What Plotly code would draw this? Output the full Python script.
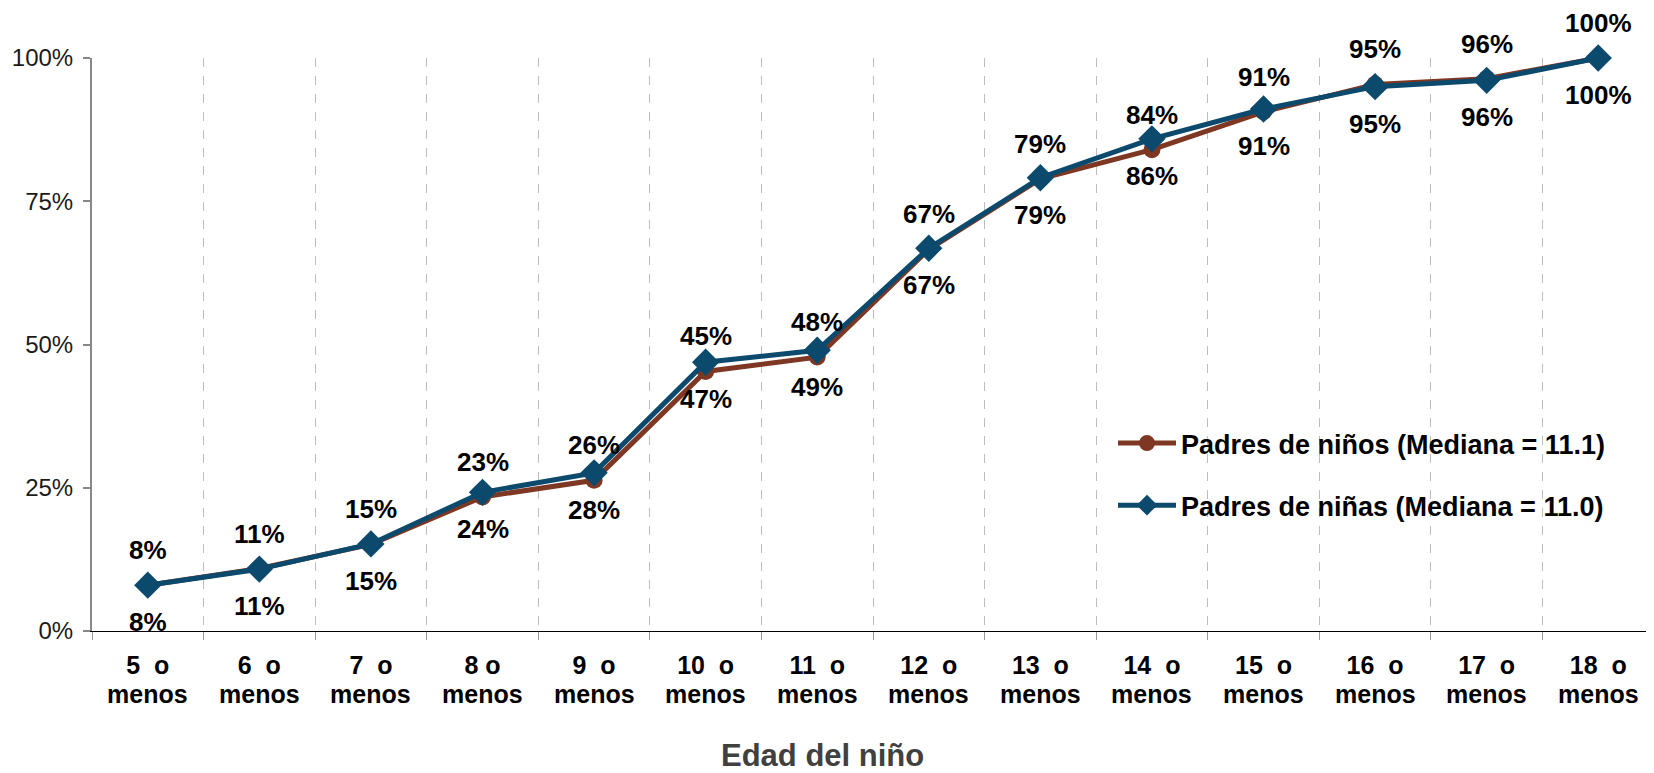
import plotly.graph_objects as go

categories = ["5 o menos", "6 o menos", "7 o menos", "8 o menos", "9 o menos",
              "10 o menos", "11 o menos", "12 o menos", "13 o menos", "14 o menos",
              "15 o menos", "16 o menos", "17 o menos", "18 o menos"]
tick_line1 = ["5\u00a0\u00a0o", "6\u00a0\u00a0o", "7\u00a0\u00a0o", "8\u00a0o", "9\u00a0\u00a0o",
              "10\u00a0\u00a0o", "11\u00a0\u00a0o", "12\u00a0\u00a0o", "13\u00a0\u00a0o",
              "14\u00a0\u00a0o", "15\u00a0\u00a0o", "16\u00a0\u00a0o", "17\u00a0\u00a0o",
              "18\u00a0\u00a0o"]
tick_line2 = ["menos"] * 14

ninos = [8.0, 10.9, 15.1, 23.4, 26.3, 45.3, 47.8, 66.6, 78.9, 84.0, 90.6, 95.4, 96.4, 100.0]
ninas = [8.0, 10.8, 15.2, 24.2, 27.6, 46.9, 49.0, 66.8, 79.1, 85.9, 91.1, 95.0, 96.1, 100.0]

name_ninos = "Padres de niños (Mediana = 11.1)"
name_ninas = "Padres de niñas (Mediana = 11.0)"
x_title = "Edad del niño"

y_ticks = [0, 25, 50, 75, 100]
y_ticktext = [f"{v}%" for v in y_ticks]

BROWN = "#7E3722"
BLUE = "#0C4A6D"
FONT = "Liberation Sans, Arial, sans-serif"

fig = go.Figure()
fig.add_trace(go.Scatter(
    x=categories, y=ninos, name=name_ninos, mode="lines+markers",
    line=dict(color=BROWN, width=5),
    marker=dict(symbol="circle", size=17, color=BROWN),
    cliponaxis=False, legendgroup="a",
))
fig.add_trace(go.Scatter(
    x=categories, y=ninas, name=name_ninas, mode="lines+markers",
    line=dict(color=BLUE, width=5),
    marker=dict(symbol="diamond", size=21, color=BLUE),
    cliponaxis=False, legendgroup="b",
))

label_font = dict(family=FONT, size=26, color="#000000", weight="bold")
annotations = []
for c, v in zip(categories, ninos):
    annotations.append(dict(x=c, y=v, xref="x", yref="y", text=f"{v:.0f}%",
                            showarrow=False, yshift=35, font=label_font))
for c, v in zip(categories, ninas):
    annotations.append(dict(x=c, y=v, xref="x", yref="y", text=f"{v:.0f}%",
                            showarrow=False, yshift=-37, font=label_font))
for c, t in zip(categories, tick_line2):
    annotations.append(dict(x=c, y=0, xref="x", yref="paper", text=t,
                            showarrow=False, yanchor="middle", yshift=-63,
                            font=dict(family=FONT, size=25, color="#000000", weight="bold")))
annotations.append(dict(x=(814 - 84) / 1562, y=0, xref="paper", yref="paper", text=x_title,
                        showarrow=False, yanchor="middle", yshift=-124,
                        font=dict(family=FONT, size=31, color="#404040", weight="bold")))

fig.update_layout(
    width=1646, height=765,
    margin=dict(l=84, r=0, t=50, b=142),
    paper_bgcolor="white", plot_bgcolor="white",
    font=dict(family=FONT, color="#000000"),
    showlegend=True,
    legend=dict(
        x=(1105 - 84) / 1562, y=(623 - 411) / 573, xanchor="left", yanchor="top",
        font=dict(family=FONT, size=27, color="#000000", weight="bold"),
        bgcolor="rgba(0,0,0,0)", tracegroupgap=24, itemwidth=58,
    ),
    annotations=annotations,
    xaxis=dict(
        type="category", tickson="boundaries",
        tickvals=categories, ticktext=tick_line1,
        showgrid=True, gridcolor="#BDBDBD", griddash="dash", gridwidth=1,
        showline=True, linecolor="#000000", linewidth=1,
        ticks="outside", ticklen=8, tickcolor="#9A9A9A", tickwidth=1,
        ticklabelstandoff=12,
        tickfont=dict(family=FONT, size=25, color="#000000", weight="bold"),
        range=[-0.5, 13.5], zeroline=False,
    ),
    yaxis=dict(
        range=[0, 100], tickvals=y_ticks, ticktext=y_ticktext,
        showgrid=False, zeroline=False,
        showline=True, linecolor="#888888", linewidth=2,
        ticks="outside", ticklen=7, tickcolor="#888888", tickwidth=2,
        ticklabelstandoff=5,
        tickfont=dict(family=FONT, size=24, color="#1a1a1a"),
    ),
)

fig.write_html("out.html")
